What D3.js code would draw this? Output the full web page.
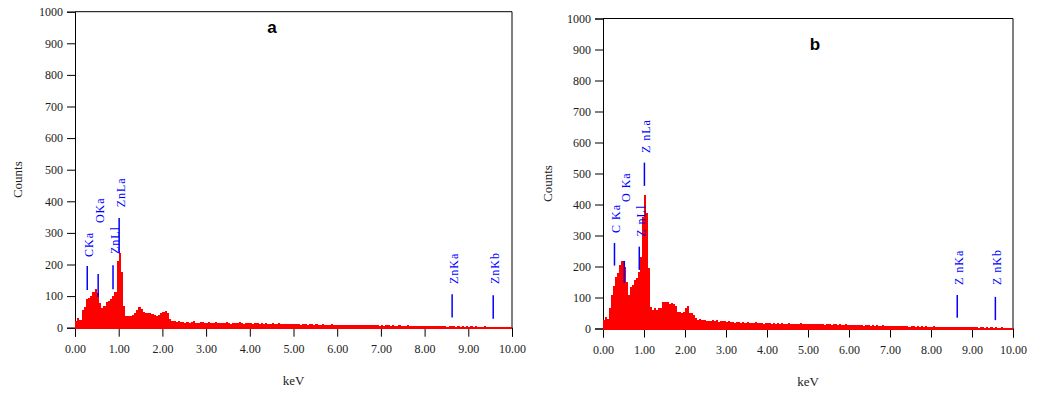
<!DOCTYPE html>
<html>
<head>
<meta charset="utf-8">
<script src="https://cdn.jsdelivr.net/npm/d3@7"></script>
<style>
  body { margin: 0; background: #fff; }
  .tick text { font-family: "Liberation Serif", "Times New Roman", serif; font-size: 12px; fill: #222; }
  .axis-label { font-family: "Liberation Serif", "Times New Roman", serif; font-size: 13px; fill: #222; }
  .peak-label { font-family: "Liberation Serif", "Times New Roman", serif; font-size: 12px; fill: #0000ff; letter-spacing: 1px; }
  .panel-title { font-family: Arial, "Liberation Sans", sans-serif; font-size: 17px; font-weight: bold; fill: #000; }
</style>
</head>
<body>
<svg id="chart" width="1052" height="399"></svg>
<script>
// EDS spectra, counts per 0.05 keV step, 0.00 .. 9.95 keV
const binWidth = 0.05;

const countsA = [
  20, 30, 25, 55, 65, 92, 95, 100, 112, 124,
  110, 78, 62, 70, 80, 86, 92, 100, 112, 210,
  236, 175, 70, 36, 38, 36, 40, 46, 55, 66,
  60, 50, 48, 47, 46, 44, 40, 38, 40, 46,
  50, 52, 45, 26, 22, 21, 19, 20, 18,
  18, 16, 19, 15, 17, 21, 16, 15, 18, 17, 16,
  15, 17, 14, 16, 19, 15, 14, 16, 15, 17, 14, 13, 16, 15, 14, 17, 15, 13, 14, 16,
  14, 13, 15, 14, 12, 15, 13, 14, 13, 12, 14, 13, 12, 15, 13, 12, 13, 11, 12, 13,
  11, 12, 13, 10, 11, 12, 10, 11, 12, 10, 11, 10, 9, 11, 10, 9, 10, 11, 9, 10,
  9, 10, 8, 9, 10, 8, 9, 8, 7, 9, 8, 7, 8, 9, 7, 8, 7, 8, 7, 6,
  7, 6, 7, 8, 6, 7, 6, 5, 7, 6, 5, 6, 7, 5, 6, 5, 6, 5, 4, 5,
  5, 6, 5, 4, 5, 4, 5, 4, 5, 4, 3, 4, 5, 4, 3, 4, 3, 4, 3, 4,
  3, 4, 3, 4, 3, 2, 3, 4, 3, 2, 3, 2, 3, 2, 3, 2, 2, 3, 2, 2
];

const countsB = [
  27, 38, 32, 65, 108, 137, 167, 178, 205, 219,
  200, 151, 108, 135, 140, 156, 162, 183, 232, 360,
  430, 372, 194, 70, 60, 65, 60, 65, 65, 86,
  86, 86, 79, 83, 79, 73, 54, 54, 51, 54,
  65, 73, 49, 49, 43, 33, 27, 30, 27, 27,
  25, 25, 25,
  26, 24, 28, 22, 25, 23, 24,
  21, 23, 20, 22, 19, 21, 20, 18, 22, 19, 20, 18, 19, 17, 20, 18, 17, 19, 16, 18,
  17, 18, 16, 17, 15, 18, 16, 17, 15, 16, 17, 15, 16, 14, 16, 15, 17, 14, 15, 16,
  15, 14, 16, 13, 15, 14, 13, 15, 12, 14, 13, 12, 14, 13, 12, 13, 11, 12, 13, 11,
  12, 11, 10, 12, 11, 10, 11, 9, 10, 11, 9, 10, 9, 10, 8, 9, 10, 8, 9, 8,
  8, 9, 7, 8, 9, 7, 8, 7, 8, 6, 7, 8, 6, 7, 6, 7, 6, 7, 5, 6,
  6, 7, 5, 6, 5, 6, 5, 6, 4, 5, 6, 5, 4, 5, 4, 5, 4, 5, 4, 5,
  4, 5, 4, 3, 4, 5, 3, 4, 3, 4, 3, 4, 3, 3, 4, 3, 3, 2, 3, 2
];

// peak markers (energy in keV, marker line / label heights in counts)
const peakNamesA = ['CKa', 'OKa', 'ZnLl', 'ZnLa', 'ZnKa', 'ZnKb'];
const peakKevA = [0.28, 0.53, 0.87, 1.01, 8.63, 9.57];
const markTopA = [195, 170, 198, 347, 106, 103];
const markBotA = [119, 97, 122, 236, 32, 28];
const labelAtA = [224, 331, 233, 381, 138, 138];

const peakNamesB = ['C Ka', 'O Ka', 'Z nLl', 'Z nLa', 'Z nKa', 'Z nKb'];
const peakKevB = [0.28, 0.52, 0.885, 1.01, 8.64, 9.57];
const markTopB = [276, 218, 264, 535, 108, 102];
const markBotB = [203, 147, 189, 460, 35, 27];
const labelAtB = [308, 408, 296, 566, 140, 140];

const xTickValues = [0, 1, 2, 3, 4, 5, 6, 7, 8, 9, 10];
const yTickValues = [0, 100, 200, 300, 400, 500, 600, 700, 800, 900, 1000];

const svg = d3.select('#chart');

const drawPanel = p => {
  const x = d3.scaleLinear().domain([0, 10]).range([p.left, p.right]);
  const y = d3.scaleLinear().domain([0, 1000]).range([p.bottom, p.top]);
  const g = svg.append('g');

  // frame: top + right border
  g.append('line').attr('x1', p.left).attr('x2', p.right)
    .attr('y1', p.top).attr('y2', p.top).attr('stroke', '#000');
  g.append('line').attr('x1', p.right).attr('x2', p.right)
    .attr('y1', p.top).attr('y2', p.bottom).attr('stroke', '#000');

  const yAxisG = g.append('g')
    .attr('transform', `translate(${p.left},0)`)
    .call(d3.axisLeft(y).tickValues(yTickValues).tickSize(8).tickPadding(4).tickFormat(d3.format('d')));
  yAxisG.selectAll('.domain, line').attr('stroke', '#000');

  const xAxisG = g.append('g')
    .attr('transform', `translate(0,${p.bottom})`)
    .call(d3.axisBottom(x).tickValues(xTickValues).tickSize(9).tickPadding(8).tickFormat(d3.format('.2f')));
  xAxisG.selectAll('.domain, line').attr('stroke', '#000');

  // spectrum bars
  g.append('g').selectAll('rect').data(p.counts)
    .enter().append('rect')
      .attr('x', (d, i) => x(i * binWidth))
      .attr('width', (d, i) => x((i + 1) * binWidth) - x(i * binWidth))
      .attr('y', d => y(d))
      .attr('height', d => y(0) - y(d) + 1)
      .attr('fill', '#ff0000')
      .attr('shape-rendering', 'crispEdges');

  // peak markers
  p.names.forEach((name, i) => {
    const px = x(p.kev[i]);
    g.append('line')
      .attr('x1', px).attr('x2', px)
      .attr('y1', y(p.top_[i])).attr('y2', y(p.bot[i]))
      .attr('stroke', '#0000ff').attr('stroke-width', 1.5);
    g.append('text')
      .attr('class', 'peak-label')
      .attr('transform', `translate(${px + 6},${y(p.lab[i])}) rotate(-90)`)
      .text(name);
  });

  g.append('text')
    .attr('class', 'axis-label')
    .attr('text-anchor', 'middle')
    .attr('transform', `translate(${p.countsX},${(p.top + p.bottom) / 2 + 10}) rotate(-90)`)
    .text('Counts');

  g.append('text')
    .attr('class', 'axis-label')
    .attr('text-anchor', 'middle')
    .attr('x', (p.left + p.right) / 2)
    .attr('y', p.bottom + 57)
    .text('keV');

  g.append('text')
    .attr('class', 'panel-title')
    .attr('text-anchor', 'middle')
    .attr('x', p.titleX).attr('y', p.titleY)
    .text(p.title);
};

drawPanel({
  left: 75, right: 512, top: 11.7, bottom: 327.7,
  counts: countsA, names: peakNamesA, kev: peakKevA,
  top_: markTopA, bot: markBotA, lab: labelAtA,
  countsX: 22, title: 'a', titleX: 272, titleY: 33
});

drawPanel({
  left: 603, right: 1013, top: 18.5, bottom: 328.5,
  counts: countsB, names: peakNamesB, kev: peakKevB,
  top_: markTopB, bot: markBotB, lab: labelAtB,
  countsX: 552, title: 'b', titleX: 815, titleY: 50
});
</script>
</body>
</html>
